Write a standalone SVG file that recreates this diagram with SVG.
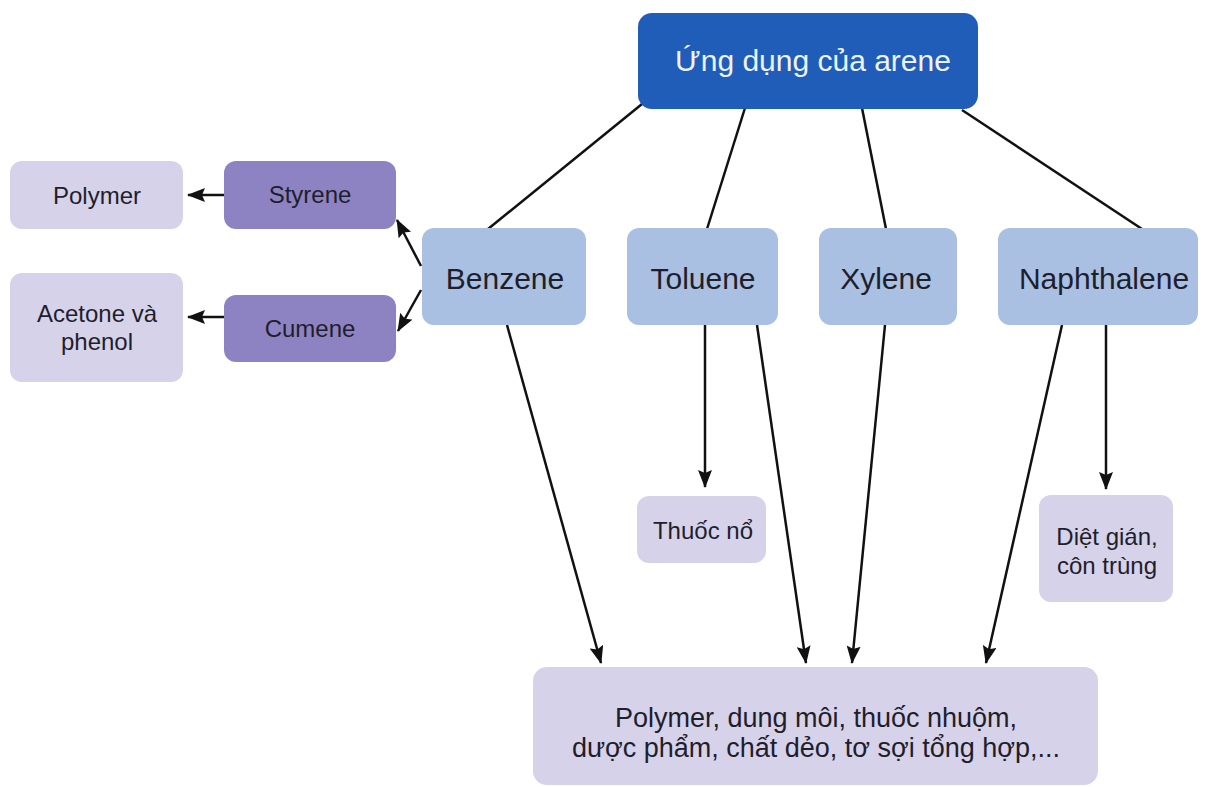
<svg xmlns="http://www.w3.org/2000/svg" width="1205" height="787" viewBox="0 0 1205 787">
  <defs>
    <marker id="arrow" viewBox="0 0 18 14" refX="17" refY="7" markerWidth="18" markerHeight="14" markerUnits="userSpaceOnUse" orient="auto">
      <path d="M0,0 L18,7 L0,14 L3,7 z" fill="#111"/>
    </marker>
    <style>
      .title { fill: #1f5db8; }
      .main { fill: #a9c0e2; }
      .mid { fill: #8e83c2; }
      .leaf { fill: #d6d2e9; }
      text { font-family: "Liberation Sans", Arial, sans-serif; fill: #1e1e2c; text-anchor: middle; }
      .t-title { font-size: 30px; fill: #eef3ff; }
      .t-main { font-size: 30px; }
      .t-mid { font-size: 24px; }
      .t-leaf { font-size: 24px; }
      .t-big { font-size: 27px; }
      .line { stroke: #111; stroke-width: 2.5; fill: none; }
      .arr { stroke: #111; stroke-width: 2.5; fill: none; marker-end: url(#arrow); }
    </style>
  </defs>

  <rect width="1205" height="787" fill="#ffffff"/>

  <!-- connectors -->
  <g id="connectors">
    <line class="line" x1="642" y1="104" x2="488" y2="229"/>
    <line class="line" x1="745" y1="108" x2="707" y2="229"/>
    <line class="line" x1="862" y1="108" x2="886" y2="229"/>
    <line class="line" x1="962" y1="110" x2="1142" y2="229"/>

    <line class="arr" x1="421" y1="266" x2="397" y2="220"/>
    <line class="arr" x1="421" y1="290" x2="398" y2="331"/>
    <line class="arr" x1="224" y1="195" x2="188" y2="195"/>
    <line class="arr" x1="224" y1="317" x2="188" y2="317"/>

    <line class="arr" x1="705" y1="325" x2="705" y2="487"/>
    <line class="arr" x1="1106" y1="325" x2="1106" y2="489"/>

    <line class="arr" x1="507" y1="325" x2="601" y2="663"/>
    <line class="arr" x1="757" y1="325" x2="806" y2="663"/>
    <line class="arr" x1="885" y1="325" x2="852" y2="663"/>
    <line class="arr" x1="1062" y1="325" x2="986" y2="663"/>
  </g>

  <!-- nodes -->
  <g id="node-arene">
    <rect class="title" x="638" y="13" width="340" height="96" rx="14"/>
    <text class="t-title" x="813" y="71">Ứng dụng của arene</text>
  </g>

  <g id="node-benzene">
    <rect class="main" x="422" y="228" width="164" height="97" rx="12"/>
    <text class="t-main" x="505" y="289">Benzene</text>
  </g>
  <g id="node-toluene">
    <rect class="main" x="627" y="228" width="151" height="97" rx="12"/>
    <text class="t-main" x="703" y="289">Toluene</text>
  </g>
  <g id="node-xylene">
    <rect class="main" x="819" y="228" width="138" height="97" rx="12"/>
    <text class="t-main" x="886" y="289">Xylene</text>
  </g>
  <g id="node-naphthalene">
    <rect class="main" x="998" y="228" width="200" height="97" rx="12"/>
    <text class="t-main" x="1104" y="289">Naphthalene</text>
  </g>

  <g id="node-styrene">
    <rect class="mid" x="224" y="161" width="172" height="68" rx="12"/>
    <text class="t-mid" x="310" y="203">Styrene</text>
  </g>
  <g id="node-cumene">
    <rect class="mid" x="224" y="295" width="172" height="67" rx="12"/>
    <text class="t-mid" x="310" y="337">Cumene</text>
  </g>

  <g id="node-polymer">
    <rect class="leaf" x="10" y="161" width="173" height="68" rx="12"/>
    <text class="t-leaf" x="97" y="204">Polymer</text>
  </g>
  <g id="node-acetone">
    <rect class="leaf" x="10" y="273" width="173" height="109" rx="12"/>
    <text class="t-leaf" x="97" y="322">Acetone và</text>
    <text class="t-leaf" x="97" y="350">phenol</text>
  </g>

  <g id="node-thuocno">
    <rect class="leaf" x="637" y="496" width="129" height="67" rx="12"/>
    <text class="t-leaf" x="703" y="539">Thuốc nổ</text>
  </g>
  <g id="node-dietgian">
    <rect class="leaf" x="1039" y="495" width="134" height="107" rx="12"/>
    <text class="t-leaf" x="1107" y="545">Diệt gián,</text>
    <text class="t-leaf" x="1107" y="574">côn trùng</text>
  </g>

  <g id="node-products">
    <rect class="leaf" x="533" y="667" width="565" height="118" rx="14"/>
    <text class="t-big" x="816" y="727">Polymer, dung môi, thuốc nhuộm,</text>
    <text class="t-big" x="816" y="757">dược phẩm, chất dẻo, tơ sợi tổng hợp,...</text>
  </g>
</svg>
